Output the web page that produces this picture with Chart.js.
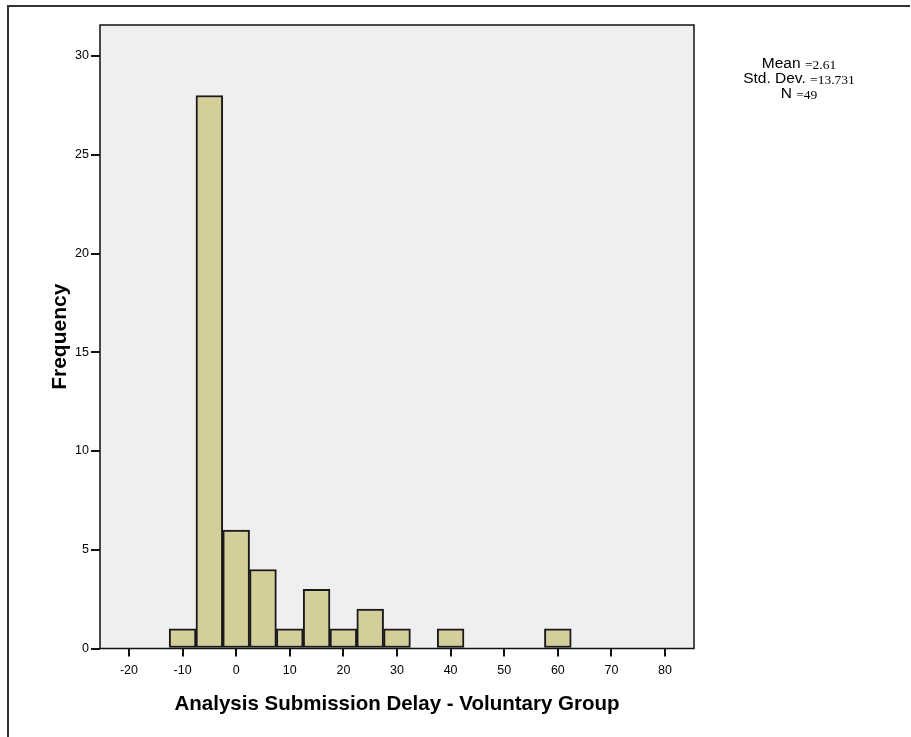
<!DOCTYPE html>
<html>
<head>
<meta charset="utf-8">
<script src="https://cdn.jsdelivr.net/npm/chart.js@4/dist/chart.umd.min.js"></script>
<style>
  html, body { margin: 0; padding: 0; background: #fff; }
  #wrap { width: 911px; height: 737px; position: relative; }
</style>
</head>
<body>
<div id="wrap"><canvas id="histChart"></canvas></div>
<script>
// bin centres (width 5) and counts
const binCentres = [-10, -5, 0, 5, 10, 15, 20, 25, 30, 40, 60];
const binCounts  = [1, 28, 6, 4, 1, 3, 1, 2, 1, 1, 1];

const xTicks = [-20, -10, 0, 10, 20, 30, 40, 50, 60, 70, 80];
const yTicks = [0, 5, 10, 15, 20, 25, 30];

const statLabels = ['Mean', 'Std. Dev.', 'N'];
const statValues = ['=2.61', '=13.731', '=49'];

const FONT_SANS = '"Liberation Sans", Arial, sans-serif';

// plot background, frame, outer box and the stats block
const histDecor = {
    id: 'histDecor',
    beforeDraw(chart) {
        const { ctx, chartArea: a } = chart;
        ctx.save();
        ctx.fillStyle = '#efefef';
        ctx.fillRect(a.left, a.top, a.right - a.left, a.bottom - a.top);
        ctx.restore();
    },
    afterDraw(chart) {
        const { ctx, chartArea: a } = chart;
        ctx.save();
        ctx.strokeStyle = '#111';
        ctx.lineWidth = 1.5;
        ctx.strokeRect(a.left, a.top, a.right - a.left, a.bottom - a.top);

        // outer frame (top + left only visible)
        ctx.strokeStyle = '#333';
        ctx.lineWidth = 2;
        ctx.beginPath();
        ctx.moveTo(910, 6);
        ctx.lineTo(8, 6);
        ctx.lineTo(8, 737);
        ctx.stroke();

        // stats text
        const lineY = [64, 79, 94];
        ctx.fillStyle = '#000';
        ctx.textBaseline = 'middle';
        statLabels.forEach((lab, i) => {
            ctx.font = '15.5px ' + FONT_SANS;
            const w1 = ctx.measureText(lab + ' ').width;
            ctx.font = '13.5px "Liberation Serif", serif';
            const w2 = ctx.measureText(statValues[i]).width;
            const x0 = 799 - (w1 + w2) / 2;
            ctx.font = '15.5px ' + FONT_SANS;
            ctx.textAlign = 'left';
            ctx.fillText(lab + ' ', x0, lineY[i]);
            ctx.font = '13.5px "Liberation Serif", serif';
            ctx.fillText(statValues[i], x0 + w1, lineY[i] + 1);
        });
        ctx.restore();
    }
};

const ctx = document.getElementById('histChart');

new Chart(ctx, {
    type: 'bar',
    data: {
        datasets: [{
            label: 'Frequency',
            data: binCentres.map((c, i) => ({ x: c, y: binCounts[i] })),
            backgroundColor: '#d3ce9a',
            borderColor: '#1a1a1a',
            borderWidth: 2,
            borderSkipped: false,
            barPercentage: 1,
            categoryPercentage: 1
        }]
    },
    options: {
        responsive: true,
        maintainAspectRatio: false,
        animation: false,
        layout: { padding: { top: 25, right: 217, bottom: 0, left: 0 } },
        plugins: {
            legend: { display: false },
            tooltip: { enabled: false }
        },
        scales: {
            x: {
                type: 'linear',
                min: -25.4,
                max: 85.4,
                offset: false,
                afterBuildTicks: (scale) => { scale.ticks = xTicks.map(v => ({ value: v })); },
                afterFit: (scale) => { scale.height = 88.5; },
                ticks: {
                    color: '#000',
                    font: { size: 12.5, family: FONT_SANS },
                    padding: 7,
                    maxRotation: 0,
                    autoSkip: false
                },
                grid: {
                    offset: false,
                    drawOnChartArea: false,
                    drawTicks: true,
                    tickLength: 8,
                    color: '#111',
                    lineWidth: 2
                },
                border: { display: false },
                title: {
                    display: true,
                    text: 'Analysis Submission Delay - Voluntary Group',
                    color: '#000',
                    font: { size: 20.5, weight: 'bold', family: FONT_SANS },
                    padding: { top: 0, bottom: 20.7 }
                }
            },
            y: {
                min: 0,
                max: 31.57,
                afterBuildTicks: (scale) => { scale.ticks = yTicks.map(v => ({ value: v })); },
                afterFit: (scale) => { scale.width = 100; },
                ticks: {
                    color: '#000',
                    font: { size: 12.5, family: FONT_SANS },
                    padding: 2
                },
                grid: {
                    offset: false,
                    drawOnChartArea: false,
                    drawTicks: true,
                    tickLength: 9,
                    color: '#111',
                    lineWidth: 2
                },
                border: { display: false },
                title: {
                    display: true,
                    text: 'Frequency',
                    color: '#000',
                    font: { size: 21, weight: 'bold', family: FONT_SANS },
                    padding: { top: 47.4, bottom: 0 }
                }
            }
        }
    },
    plugins: [histDecor]
});
</script>
</body>
</html>
